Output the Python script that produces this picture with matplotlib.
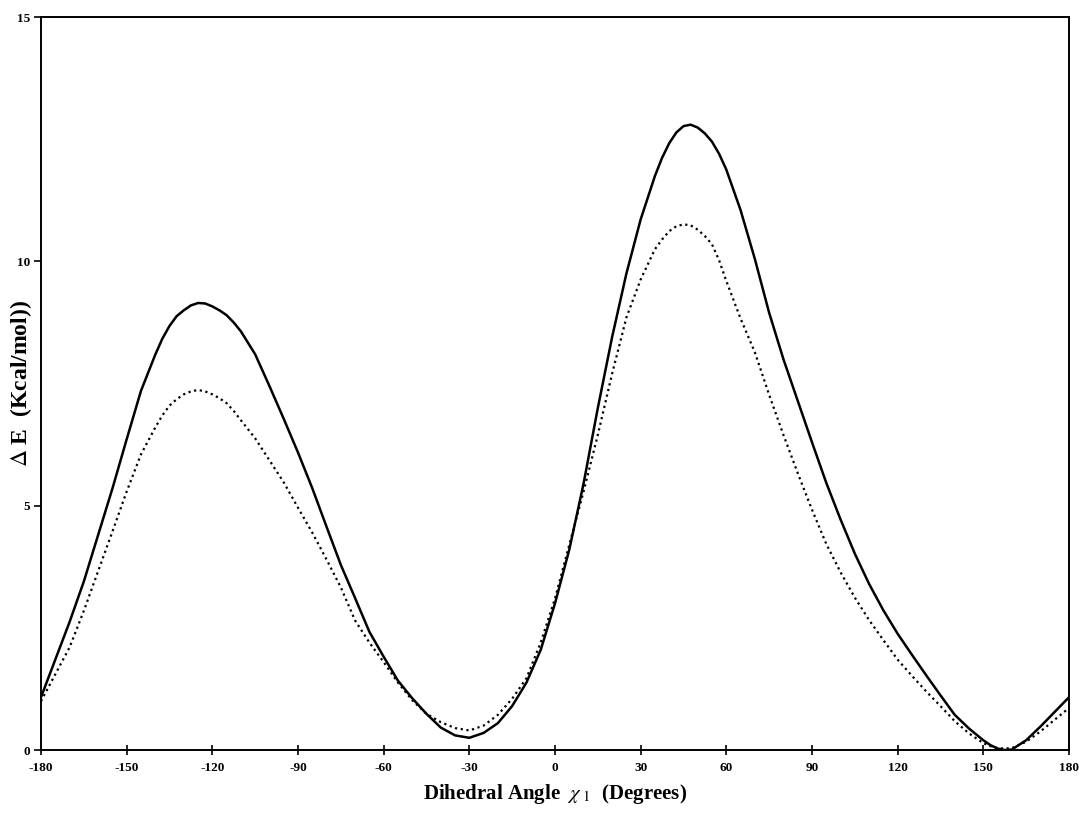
import numpy as np
import matplotlib
matplotlib.use("Agg")
import matplotlib.pyplot as plt

angle = [-180, -175, -170, -165, -160, -155, -150, -145, -140, -137.5, -135, -132.5, -130,
         -127.5, -125, -122.5, -120, -117.5, -115, -112.5, -110, -105, -100, -95, -90, -85,
         -80, -75, -70, -65, -60, -55, -50, -45, -40, -35, -30, -25, -20, -15, -10, -5, 0,
         5, 10, 15, 20, 25, 30, 35, 37.5, 40, 42.5, 45, 47.5, 50, 52.5, 55, 57.5, 60, 65, 70,
         75, 80, 85, 90, 95, 100, 105, 110, 115, 120, 125, 130, 135, 140, 145, 150, 152.5,
         155, 157.5, 160, 165, 170, 175, 180]

# solid curve, Delta E (kcal/mol)
energy_solid = [1.08, 1.85, 2.62, 3.45, 4.40, 5.35, 6.36, 7.35, 8.09, 8.42, 8.68, 8.88, 9.00,
                9.10, 9.15, 9.14, 9.08, 9.00, 8.90, 8.75, 8.57, 8.10, 7.45, 6.78, 6.09, 5.36,
                4.57, 3.79, 3.11, 2.42, 1.91, 1.42, 1.06, 0.74, 0.46, 0.30, 0.25, 0.35, 0.55, 0.90, 1.38, 2.05, 3.00,
                4.10, 5.45, 7.00, 8.45, 9.75, 10.86, 11.75, 12.12, 12.42, 12.64, 12.77, 12.80, 12.74, 12.62, 12.45, 12.20, 11.88, 11.05, 10.05,
                8.95, 8.00, 7.15, 6.30, 5.47, 4.72, 4.02, 3.40, 2.86, 2.38, 1.95, 1.53, 1.12, 0.72, 0.44, 0.20, 0.10,
                0.03, 0.00, 0.01, 0.20, 0.48, 0.78, 1.08]

# dotted curve, Delta E (kcal/mol)
energy_dotted = [1.00, 1.55, 2.10, 2.85, 3.66, 4.47, 5.29, 6.05, 6.60, 6.85, 7.05, 7.18, 7.28,
                 7.34, 7.37, 7.34, 7.28, 7.20, 7.10, 6.94, 6.75, 6.38, 5.93, 5.48, 4.96, 4.45,
                 3.90, 3.33, 2.65, 2.20, 1.80, 1.38, 1.02, 0.74, 0.57, 0.45, 0.40, 0.50, 0.72, 1.05, 1.47, 2.20, 3.10,
                 4.20, 5.29, 6.45, 7.70, 8.85, 9.63, 10.25, 10.45, 10.62, 10.72, 10.76, 10.74, 10.65, 10.52, 10.35, 10.02, 9.60, 8.83, 8.14,
                 7.27, 6.45, 5.67, 4.92, 4.22, 3.64, 3.12, 2.66, 2.25, 1.85, 1.52, 1.20, 0.90, 0.59, 0.34, 0.14, 0.08,
                 0.04, 0.03, 0.04, 0.17, 0.38, 0.62, 0.86]

x_ticks = [-180, -150, -120, -90, -60, -30, 0, 30, 60, 90, 120, 150, 180]
y_ticks = [0, 5, 10, 15]

plt.rcParams['font.family'] = ['Liberation Serif', 'DejaVu Serif']
plt.rcParams['mathtext.fontset'] = 'stix'
plt.rcParams['axes.unicode_minus'] = False

fig = plt.figure(figsize=(10.79, 8.18), dpi=100)
ax = fig.add_axes([0.038, 0.0831, 0.9527, 0.8959])

ax.plot(angle, energy_solid, color='black', lw=1.8, solid_joinstyle='round', solid_capstyle='round')
ax.plot(angle, energy_dotted, color='black', lw=1.6, linestyle=(0, (1, 1.6)))

ax.set_xlim(-180, 180)
ax.set_ylim(0, 15)
ax.set_xticks(x_ticks)
ax.set_yticks(y_ticks)
ax.tick_params(axis='x', direction='inout', length=7, width=1.2, labelsize=9.5, pad=5)
ax.tick_params(axis='y', direction='out', length=5, width=1.2, labelsize=9.5, pad=3)
for lab in ax.get_xticklabels() + ax.get_yticklabels():
    lab.set_fontweight('bold')

for sp in ax.spines.values():
    sp.set_linewidth(1.4)

ax.set_xlabel(r'Dihedral Angle  $\chi_{\ 1}$  (Degrees)', fontsize=15, fontweight='bold', labelpad=6)
ax.set_ylabel(r'$\Delta$ E  (Kcal/mol))', fontsize=17, fontweight='bold')
ax.yaxis.set_label_coords(-0.007, 0.5)

fig.savefig('out.png', dpi=100)
